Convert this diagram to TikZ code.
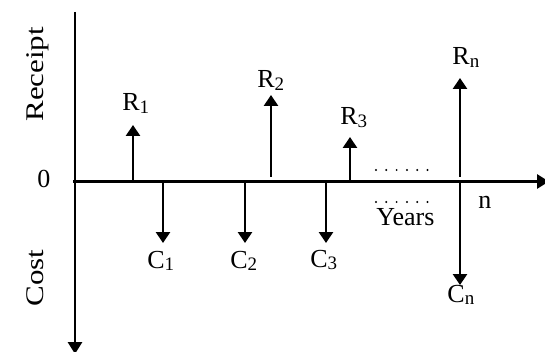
\documentclass[tikz,border=0pt]{standalone}
\usepackage{fontspec}
\setmainfont{Liberation Serif}
\usepackage{graphicx}
\usetikzlibrary{arrows.meta,positioning}
\newcommand{\sub}[1]{\raisebox{-1.2pt}{\fontsize{9.5}{10}\selectfont #1}}

\begin{document}
\begin{tikzpicture}[
  x=0.5pt,y=-0.5pt,
  flow/.style={-{Triangle[length=5.5pt,width=7pt]},line width=1.4pt},
  axis/.style={-{Triangle[length=6pt,width=7pt]},line width=1.4pt},
  lbl/.style={anchor=base west,inner sep=0pt,font=\fontsize{13}{15}\selectfont},
  side/.style={anchor=base west,inner sep=0pt,rotate=90,font=\fontsize{15.5}{17}\selectfont},
  gap/.style={line width=1.1pt,dash pattern=on 0pt off 5.15pt,line cap=round}
]
\useasboundingbox (0,0) rectangle (545,352);
% axes
\coordinate (top)    at (75,12);
\coordinate (bottom) at (75,354);
\coordinate (left)   at (73,181.5);
\coordinate (right)  at (549,181.5);
\draw[axis] (top) -- (bottom);
\draw[axis] (left) -- (right);
\node[side] (receipt) at (43,122) {\scalebox{1}[0.82]{Receipt}};
\node[side] (cost)    at (43,307) {\scalebox{1}[0.82]{Cost}};
\node[lbl]  (zero)    at (37,188) {0};
\node[lbl]  (nend)    at (478,208) {n};
% receipts
\coordinate (r1a) at (133,181.5); \coordinate (r1b) at (133,125);
\coordinate (r2a) at (271,177);   \coordinate (r2b) at (271,95);
\coordinate (r3a) at (350,181.5); \coordinate (r3b) at (350,137);
\coordinate (rna) at (460,177);   \coordinate (rnb) at (460,78);
\draw[flow] (r1a) -- (r1b);
\draw[flow] (r2a) -- (r2b);
\draw[flow] (r3a) -- (r3b);
\draw[flow] (rna) -- (rnb);
\node[lbl] (R1) at (122,111) {R\sub{1}};
\node[lbl] (R2) at (257,88)  {R\sub{2}};
\node[lbl] (R3) at (340,125) {R\sub{3}};
\node[lbl] (Rn) at (452,65)  {R\sub{n}};
% costs
\coordinate (c1a) at (163,181.5); \coordinate (c1b) at (163,243);
\coordinate (c2a) at (245,181.5); \coordinate (c2b) at (245,243);
\coordinate (c3a) at (326,181.5); \coordinate (c3b) at (326,243);
\coordinate (cna) at (460,181.5); \coordinate (cnb) at (460,285);
\draw[flow] (c1a) -- (c1b);
\draw[flow] (c2a) -- (c2b);
\draw[flow] (c3a) -- (c3b);
\draw[flow] (cna) -- (cnb);
\node[lbl] (C1) at (147,268) {C\sub{1}};
\node[lbl] (C2) at (230,268) {C\sub{2}};
\node[lbl] (C3) at (310,267) {C\sub{3}};
\node[lbl] (Cn) at (447,302) {C\sub{n}};
% years
\coordinate (dotsa) at (376,170); \coordinate (dotsb) at (428,170);
\coordinate (dotsc) at (376,202); \coordinate (dotsd) at (428,202);
\draw[gap] (dotsa) -- (dotsb);
\draw[gap] (dotsc) -- (dotsd);
\node[lbl] (years) at (376,225) {Years};
\end{tikzpicture}
\end{document}
